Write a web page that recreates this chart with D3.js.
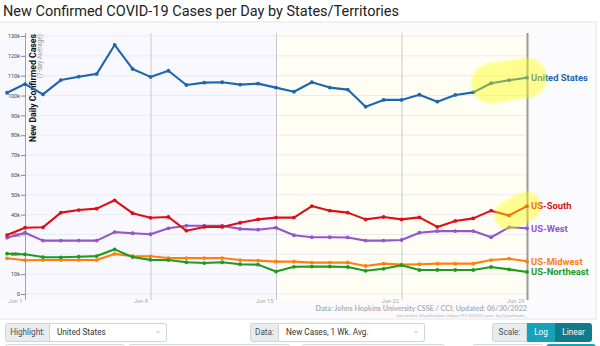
<!DOCTYPE html>
<html>
<head>
<meta charset="utf-8">
<script src="https://cdn.jsdelivr.net/npm/d3@7"></script>
<style>
  html, body { margin: 0; padding: 0; background: #fff; }
  body { width: 600px; height: 346px; position: relative; overflow: hidden; font-family: Roboto, "Open Sans", sans-serif; }
  svg { position: absolute; left: 0; top: 0; }
  .grp { position: absolute; height: 19px; display: flex; font-size: 8.2px; color: #495057; }
  .grp .lab { background: #e9ecef; border: 1px solid #ced4da; border-radius: 3px 0 0 3px; line-height: 17px; box-sizing: border-box; height: 19px; text-align: center; }
  .grp .sel { background: #fff; border: 1px solid #ced4da; border-left: none; border-radius: 0 3px 3px 0; padding: 0 0 0 7px; line-height: 17px; box-sizing: border-box; height: 19px; position: relative; color: #333; }
  .grp .sel .chev { position: absolute; right: 5px; top: -1px; color: #aaa; font-size: 7px; }
  .btn { color: #fff; line-height: 19px; height: 19px; box-sizing: border-box; text-align: center; font-size: 8.2px; }
  .row2 { position: absolute; top: 344px; height: 10px; border: 1px solid #d5d8dc; border-radius: 3px; box-sizing: border-box; background: #fff; }
</style>
</head>
<body>
<svg id="chart" width="600" height="346"></svg>

<div class="grp" style="left:5px; top:323px;">
  <div class="lab" style="width:45px;">Highlight:</div>
  <div class="sel" style="width:117px;">United States<span class="chev">&#8964;</span></div>
</div>
<div class="grp" style="left:250px; top:323px;">
  <div class="lab" style="width:29px;">Data:</div>
  <div class="sel" style="width:146px;">New Cases, 1 Wk. Avg.<span class="chev">&#8964;</span></div>
</div>
<div class="grp" style="left:492px; top:323px;">
  <div class="lab" style="width:35px;">Scale:</div>
  <div class="btn" style="background:#17a2b8; width:28px;">Log</div>
  <div class="btn" style="background:#117a8b; border-radius:0 3px 3px 0; width:37px;">Linear</div>
</div>
<div class="row2" style="left:5px; width:120px;"></div>
<div class="row2" style="left:128px; width:162px;"></div>
<div class="row2" style="left:302px; width:143px;"></div>
<div class="row2" style="left:472px; width:72px;"></div>
<div class="row2" style="left:546px; width:50px; background:#17a2b8; border-color:#17a2b8;"></div>

<script>
// ---- data: 7-day average of new confirmed cases per day ----
const dates = [
  "2022-05-31","2022-06-01","2022-06-02","2022-06-03","2022-06-04","2022-06-05",
  "2022-06-06","2022-06-07","2022-06-08","2022-06-09","2022-06-10","2022-06-11",
  "2022-06-12","2022-06-13","2022-06-14","2022-06-15","2022-06-16","2022-06-17",
  "2022-06-18","2022-06-19","2022-06-20","2022-06-21","2022-06-22","2022-06-23",
  "2022-06-24","2022-06-25","2022-06-26","2022-06-27","2022-06-28","2022-06-29"
];
const unitedStates = [101400,105800,100600,107800,109500,110900,125500,113400,109400,112500,
                      105300,106500,106700,105500,106000,104000,101900,106700,104000,103000,
                      94400,97800,97800,100400,96900,100300,101600,106200,107700,109000];
const usSouth      = [29700,33400,33600,41000,42300,43000,47200,40700,38400,38800,
                      31900,33800,33800,35900,37600,38500,38500,44300,42000,41000,
                      37600,38800,37600,38600,33800,36800,38100,42000,39600,44300];
const usWest       = [28400,30900,26900,26900,26900,26900,31200,30600,30100,33100,
                      34400,34400,34400,32800,32400,33400,29600,28600,28600,28500,
                      26900,26900,27200,30900,31700,31700,31700,28600,33600,33100];
const usMidwest    = [18000,17000,17100,17100,17100,17100,20200,19100,19000,18100,
                      18100,18100,18100,17100,16800,16300,16300,15800,15800,15900,
                      14100,15300,14800,15000,15300,15300,15300,17100,17800,16500];
const usNortheast  = [20300,20000,18600,18500,18800,19100,22500,18600,17200,17100,
                      16000,15600,16000,15000,14800,11300,13700,13800,13800,13600,
                      11700,12700,14500,12100,12100,12100,12100,13600,12400,11100];

const seriesNames  = ["US-Midwest","US-Northeast","US-West","US-South","United States"];
const seriesValues = [usMidwest, usNortheast, usWest, usSouth, unitedStates];
const seriesColors = ["#ff7f0e", "#1e9a1e", "#9257c9", "#db1016", "#1c67b0"];
// how many trailing days each glow covers, and its thickness
const glowDays     = {"United States": 3, "US-South": 2};
const glowWidth    = {"United States": 40, "US-South": 29};

const yTicks  = d3.range(0, 130001, 10000);
const xTicks  = ["2022-06-01","2022-06-08","2022-06-15","2022-06-22","2022-06-29"];
const shadedFrom = "2022-06-15";

const titleText  = "New Confirmed COVID-19 Cases per Day by States/Territories";
const yTitle     = "New Daily Confirmed Cases";
const ySubtitle  = "(7-day Average)";
const sourceText = "Data: Johns Hopkins University CSSE / CCI; Updated: 06/30/2022";
const creditText = "Interactive Visualization: https://91-DIVOC.com/ by @profwade_";

// ---- drawing ----
const parse = d3.utcParse("%Y-%m-%d");
const svg = d3.select("#chart");

const x = d3.scaleUtc().domain([parse("2022-06-01"), parse("2022-06-29")]).range([25, 527]);
const y = d3.scaleLinear().domain([0, 130000]).range([294, 36]);
const plotTop = 33, plotBottom = 300;

svg.append("text").attr("x", 3).attr("y", 16)
  .attr("font-family", "Roboto").attr("font-size", 14.5).attr("fill", "#222")
  .text(titleText);

// card
svg.append("rect").attr("x", -1).attr("y", 22).attr("width", 597).attr("height", 297)
  .attr("fill", "#fbfbfe").attr("stroke", "#e4e4ec");

// plot backgrounds
svg.append("rect").attr("x", 0).attr("y", plotTop).attr("width", x(parse(shadedFrom)))
  .attr("height", plotBottom - plotTop).attr("fill", "#f8f8fe");
svg.append("rect").attr("x", x(parse(shadedFrom))).attr("y", plotTop)
  .attr("width", x(parse("2022-06-29")) - x(parse(shadedFrom)))
  .attr("height", plotBottom - plotTop).attr("fill", "#fefef4");

// horizontal grid
svg.append("g").selectAll("line").data(yTicks).join("line")
  .attr("x1", 25).attr("x2", x(parse("2022-06-29")))
  .attr("y1", d => y(d)).attr("y2", d => y(d))
  .attr("stroke", "#ebebf3").attr("stroke-width", 1);

// vertical grid + x tick labels
const xg = svg.append("g").attr("transform", `translate(0,${plotBottom})`)
  .call(d3.axisBottom(x).tickValues(xTicks.map(parse)).tickSize(-(plotBottom - plotTop))
        .tickFormat(d3.utcFormat("%b %-d")));
xg.select(".domain").remove();
xg.selectAll(".tick line").attr("stroke", "#c8c8cc").attr("stroke-width", 1);
xg.selectAll(".tick line").filter((d, i) => i === xTicks.length - 1)
  .attr("stroke", "#9a9a9a").attr("stroke-width", 2);
xg.selectAll(".tick line").filter((d, i) => i === 0).attr("stroke", "#a0a0a4");
xg.selectAll(".tick text").attr("text-anchor", "end").attr("x", -3).attr("y", 2.6)
  .attr("dy", 0).attr("font-family", "Roboto").attr("font-size", 5.8).attr("fill", "#aaa");

// y axis
const yg = svg.append("g").attr("transform", "translate(25,0)")
  .call(d3.axisLeft(y).tickValues(yTicks).tickSize(4)
        .tickFormat(d => d === 0 ? "0" : (d / 1000) + "k"));
yg.select(".domain").remove();
yg.selectAll(".tick line").attr("stroke", "#888");
yg.selectAll(".tick text").attr("x", -5).attr("dy", "0.3em").attr("font-family", "Roboto")
  .attr("font-size", 5.5).attr("fill", "#444");

// axis titles
svg.append("text").attr("transform", "translate(36,34) rotate(-90)")
  .attr("text-anchor", "end").attr("font-family", "Roboto").attr("font-weight", 700)
  .attr("font-size", 8.7).attr("fill", "#111").text(yTitle);
svg.append("text").attr("transform", "translate(42,34) rotate(-90)")
  .attr("text-anchor", "end").attr("font-family", "Roboto")
  .attr("font-size", 6.4).attr("fill", "#999").text(ySubtitle);

// lines
const series = seriesNames.map((name, i) => ({
  name, color: seriesColors[i],
  points: seriesValues[i].map((v, j) => ({date: parse(dates[j]), value: v}))
}));
const line = d3.line().x(d => x(d.date)).y(d => y(d.value));

const sg = svg.append("g").selectAll("g").data(series).join("g");
sg.append("path").attr("d", d => line(d.points)).attr("fill", "none")
  .attr("stroke", d => d.color).attr("stroke-width", 2.1).attr("stroke-linejoin", "round");
sg.selectAll("circle").data(d => d.points.map(p => ({...p, color: d.color}))).join("circle")
  .attr("cx", d => x(d.date)).attr("cy", d => y(d.value)).attr("r", 1.9)
  .attr("fill", d => d.color);

// end labels
sg.append("text")
  .attr("x", d => x(d.points[d.points.length - 1].date) + 4)
  .attr("y", d => y(d.points[d.points.length - 1].value))
  .attr("dy", "0.35em").attr("font-family", "Roboto").attr("font-weight", 700)
  .attr("font-size", 9.4).attr("fill", d => d.color).text(d => d.name);

// highlight glow over the most recent days
const defs = svg.append("defs");
defs.append("filter").attr("id", "soft").attr("filterUnits", "userSpaceOnUse")
  .attr("x", 0).attr("y", 0).attr("width", 600).attr("height", 346)
  .append("feGaussianBlur").attr("stdDeviation", 1.2);
svg.append("g").selectAll("path")
  .data(series.filter(s => glowDays[s.name]))
  .join("path")
  .attr("d", s => line(s.points.slice(-glowDays[s.name])))
  .attr("fill", "none").attr("stroke", "#ffff00").attr("stroke-opacity", 0.42)
  .attr("stroke-width", s => glowWidth[s.name])
  .attr("stroke-linecap", "round").attr("stroke-linejoin", "round")
  .attr("filter", "url(#soft)");

// source notes
svg.append("text").attr("x", 527).attr("y", 311).attr("text-anchor", "end")
  .attr("font-family", "Lato").attr("font-weight", 700).attr("font-size", 7.2)
  .attr("fill", "#b0b0b4").text(sourceText);
svg.append("text").attr("x", 527).attr("y", 316.5).attr("text-anchor", "end")
  .attr("font-family", "Lato").attr("font-size", 4.6)
  .attr("fill", "#b0b0b4").text(creditText);
</script>
</body>
</html>
